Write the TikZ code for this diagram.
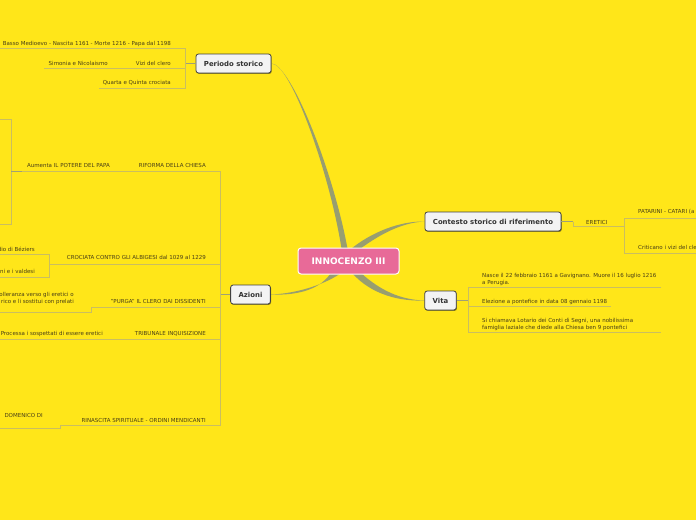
\documentclass[tikz,border=0pt]{standalone}
\usepackage{fontspec}
\setmainfont{DejaVu Sans}
\usepackage{xcolor}
\usepackage{tikz}
\usetikzlibrary{positioning,calc,shadows,backgrounds}

\definecolor{mapbg}{RGB}{255,230,25}
\definecolor{trunkcol}{RGB}{152,158,112}
\definecolor{twigcol}{RGB}{202,190,96}
\definecolor{stubcol}{RGB}{160,160,118}
\definecolor{leafcol}{RGB}{72,62,22}
\definecolor{rootcol}{RGB}{232,106,152}
\definecolor{topiccol}{RGB}{243,243,243}

\newcommand{\leaffont}{\fontsize{5.5}{6.6}\selectfont}
\newcommand{\topicfont}{\fontsize{6.9}{8}\selectfont\bfseries}

\tikzset{
  root/.style={draw=white, line width=1pt, fill=rootcol, rounded corners=3pt,
    text=white, font=\fontsize{9}{10}\selectfont\bfseries,
    minimum width=101pt, minimum height=26pt, inner sep=0pt},
  topic/.style={draw=black!75, line width=0.8pt, fill=topiccol, rounded corners=2.5pt,
    text=black!80, font=\topicfont, minimum height=19pt, inner xsep=8pt, inner ysep=0pt,
    drop shadow={shadow xshift=0.7pt, shadow yshift=-0.9pt, opacity=0.45, fill=black}},
  leaf/.style={inner sep=0pt, text=leafcol, font=\leaffont},
  twig/.style={draw=twigcol, line width=0.7pt},
  stub/.style={draw=stubcol, line width=0.8pt},
  trunk/.style={fill=trunkcol},
}

\begin{document}
\begin{tikzpicture}[x=1pt,y=-1pt]
  \useasboundingbox (0,0) rectangle (696,520);

  % central topic and main branches
  \node[root] (root) at (348.5,261) {INNOCENZO III};
  \node[topic] (per) at (233.5,63.5) {Periodo storico};
  \node[topic] (ctx) at (493,221.5) {Contesto storico di riferimento};
  \node[topic] (vita) at (440.5,300.5) {Vita};
  \node[topic] (azi) at (250.5,294.5) {Azioni};

  \coordinate (perfork) at (185,63.5);
  \coordinate (azifork) at (220,294.5);
  \coordinate (ctxfork) at (573,221.5);
  \coordinate (vitafork) at (468,300.5);

  \begin{scope}[on background layer]
    \fill[mapbg] (0,0) rectangle (696,520);
    \fill[trunk] ($(root.north)+(-7,1)$) .. controls (329,170) and (290,62.5) .. (per.east)
      .. controls (291,64.5) and (333,170) .. ($(root.north)+(-1,1)$) -- cycle;
    \fill[trunk] ($(root.north)+(3,1)$) .. controls (372,232) and (400,221) .. (ctx.west)
      .. controls (400,222.6) and (378,236) .. ($(root.north)+(12,1)$) -- cycle;
    \fill[trunk] ($(root.south)+(13,-1)$) .. controls (380,290) and (400,299.8) .. (vita.west)
      .. controls (400,301.4) and (372,295) .. ($(root.south)+(4,-1)$) -- cycle;
    \fill[trunk] ($(root.south)+(-8,-1)$) .. controls (320,287) and (292,293.8) .. (azi.east)
      .. controls (292,295.4) and (318,292) .. ($(root.south)+(-18,-1)$) -- cycle;
  \end{scope}

  % Periodo storico
  \draw[stub] (per.west) -- (perfork);
  \draw[twig] (0,48) -| (185,88) -- (99,88);
  \draw[twig] (185,68.5) -- (44,68.5);
  \node[leaf,anchor=base east] (basso) at (171,45.3) {Basso Medioevo - Nascita 1161 - Morte 1216 - Papa dal 1198};
  \node[leaf,anchor=base east] (vizi) at (171,65.3) {Vizi del clero};
  \node[leaf,anchor=base east] (simonia) at (108,65.3) {Simonia e Nicolaismo};
  \node[leaf,anchor=base east] (quarta) at (171,84.3) {Quarta e Quinta crociata};

  % Azioni
  \draw[stub] (azi.west) -- (azifork);
  \draw[twig] (22,171.5) -| (220,425) -- (60,425) -- (60,428) -- (0,428);
  \draw[twig] (220,264) -- (49,264);
  \draw[twig] (220,307.5) -- (91,307.5) -- (91,312.5) -- (0,312.5);
  \draw[twig] (220,339) -- (0,339);
  \draw[twig] (0,119) -| (11,224) -- (0,224);
  \draw[stub] (11,171.5) -- (22,171.5);
  \draw[twig] (0,254) -| (49,277) -- (0,277);
  \node[leaf,anchor=base east] (riforma) at (206,167.7) {RIFORMA DELLA CHIESA};
  \node[leaf,anchor=base east] (aumenta) at (110,167.7) {Aumenta IL POTERE DEL PAPA};
  \node[leaf,anchor=base east] (crociata) at (206,259.7) {CROCIATA CONTRO GLI ALBIGESI dal 1029 al 1229};
  \node[leaf,anchor=base east] (beziers) at (35,251) {dio di Béziers};
  \node[leaf,anchor=base east] (valdesi) at (35,273) {ni e i valdesi};
  \node[leaf,anchor=base east] (purga) at (206,303) {"PURGA" IL CLERO DAI DISSIDENTI};
  \node[leaf,anchor=north east,align=right] (tolleranza) at (74,292.1)
    {olleranza verso gli eretici o\\rico e li sostitui con prelati};
  \node[leaf,anchor=base east] (tribunale) at (206,335.7) {TRIBUNALE INQUISIZIONE};
  \node[leaf,anchor=base east] (processa) at (103,335.7) {Processa i sospettati di essere eretici};
  \node[leaf,anchor=base east] (rinascita) at (206,422) {RINASCITA SPIRITUALE - ORDINI MENDICANTI};
  \node[leaf,anchor=base east] (domenico) at (43,417.7) {DOMENICO DI};

  % Contesto storico di riferimento
  \draw[stub] (ctx.east) -- (ctxfork);
  \draw[twig] (ctxfork) -- (573,226) -- (624,226);
  \draw[twig] (696,218) -| (624,253) -- (696,253);
  \node[leaf,anchor=base west] (eretici) at (586,224.3) {ERETICI};
  \node[leaf,anchor=base west] (patarini) at (638,213.5) {PATARINI - CATARI (a};
  \node[leaf,anchor=base west] (criticano) at (638,249.7) {Criticano i vizi del cle};

  % Vita
  \draw[stub] (vita.east) -- (vitafork);
  \draw[twig] (661,287) -| (468,332) -- (661,332);
  \draw[twig] (468,306) -- (611,306);
  \node[leaf,anchor=north west,align=left] (nasce) at (482,273.1)
    {Nasce il 22 febbraio 1161 a Gavignano. Muore il 16 luglio 1216\\a Perugia.};
  \node[leaf,anchor=base west] (elezione) at (482,303.3) {Elezione a pontefice in data 08 gennaio 1198};
  \node[leaf,anchor=north west,align=left] (chiamava) at (482,318.1)
    {Si chiamava Lotario dei Conti di Segni, una nobilissima\\famiglia laziale che diede alla Chiesa ben 9 pontefici};
\end{tikzpicture}
\end{document}
